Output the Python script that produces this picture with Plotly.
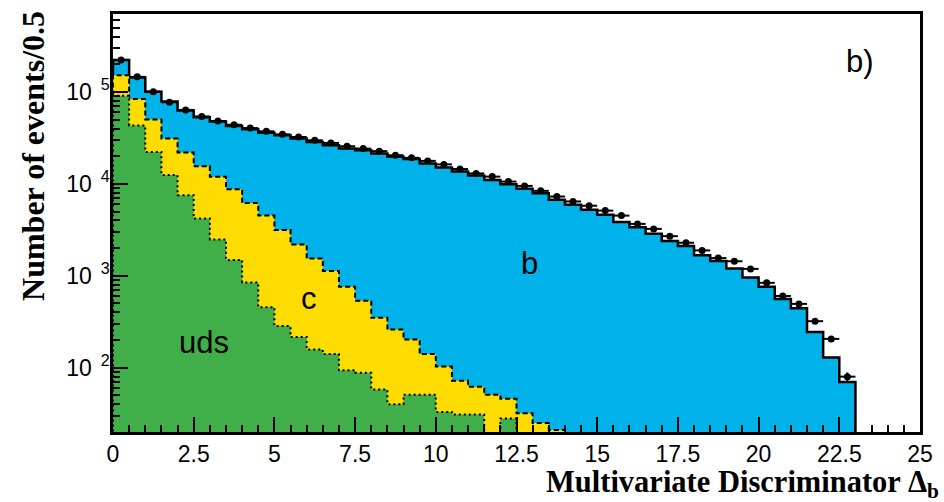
import numpy as np
import plotly.graph_objects as go

# ---------------- data (events per 0.5 bin) ----------------
bin_edges = [round(0.5 * i, 2) for i in range(51)]          # 0 ... 25
tick_vals_x = [0, 2.5, 5, 7.5, 10, 12.5, 15, 17.5, 20, 22.5, 25]
tick_text_x = ["0", "2.5", "5", "7.5", "10", "12.5", "15", "17.5", "20", "22.5", "25"]
tick_vals_y = [1e2, 1e3, 1e4, 1e5]
tick_text_y = ["10<sup>&nbsp;&nbsp;2</sup>", "10<sup>&nbsp;&nbsp;3</sup>",
               "10<sup>&nbsp;&nbsp;4</sup>", "10<sup>&nbsp;&nbsp;5</sup>"]

uds = [91200, 43300, 22300, 12500, 7530, 4190, 2490, 1490, 848, 455,
       284, 216, 158, 141, 94, 88, 58, 40, 51, 51,
       33, 31, 31, 15, 28, 0, 0, 0, 0, 0,
       0, 0, 0, 0, 0, 0, 0, 0, 0, 0,
       0, 0, 0, 0, 0, 0, 0, 0, 0, 0]

charm = [60800, 40500, 27900, 18600, 14400, 11400, 9500, 7260, 5330, 4070,
         2860, 1980, 1390, 990, 667, 449, 292, 220, 152, 90,
         70, 41, 31, 36, 18, 32, 25, 21, 0, 0,
         0, 0, 0, 0, 0, 0, 0, 0, 0, 0,
         0, 0, 0, 0, 0, 0, 0, 0, 0, 0]

bottom = [71000, 59900, 50500, 47500, 40900, 37600, 35800, 33850, 33020, 31580,
          30660, 28900, 27050, 25270, 23440, 22760, 21050, 19440, 18400, 16560,
          15000, 13530, 12240, 11000, 9854, 8808, 7895, 6699, 5930, 5240,
          4630, 3850, 3380, 2860, 2390, 2110, 1670, 1450, 1200, 959,
          761, 561, 444, 245, 129, 70, 0, 0, 0, 0]

data = [223000, 146000, 100700, 77300, 63800, 54200, 48200, 44000, 40500, 37300,
        34600, 32400, 29800, 27900, 25700, 24200, 22700, 20500, 19200, 17800,
        16300, 14500, 13000, 12000, 10600, 9510, 8400, 7290, 6440, 5790,
        5120, 4520, 3670, 3240, 2700, 2290, 1890, 1560, 1440, 1190,
        839, 604, 495, 321, 206, 80]

# ---------------- styling ----------------
COL_B = "#00B2EA"
COL_C = "#FFDC00"
COL_UDS = "#40AE49"
SANS = "Liberation Sans, Arial, sans-serif"
SERIF = "Liberation Serif, Times New Roman, serif"
W, H = 944, 502
ML, MR, MT, MB = 113, 14, 11, 70
YMIN, YMAX = 20, 7.05e5
FLOOR = 1.0

edges = np.array(bin_edges, float)
uds_top = np.array(uds, float)
c_top = uds_top + np.array(charm, float)
tot_top = c_top + np.array(bottom, float)


def step_xy(vals):
    v = np.maximum(vals, FLOOR)
    xs = np.repeat(edges, 2)[1:-1]
    ys = np.repeat(v, 2)
    xs = np.concatenate([[edges[0]], xs, [edges[-1]]])
    ys = np.concatenate([[FLOOR], ys, [FLOOR]])
    return xs, ys


fig = go.Figure()
for vals, col, dash, lw in [(tot_top, COL_B, "solid", 2.5),
                            (c_top, COL_C, "5px,3px", 2),
                            (uds_top, COL_UDS, "2px,3px", 2)]:
    xs, ys = step_xy(vals)
    fig.add_trace(go.Scatter(x=xs, y=ys, mode="lines", fill="toself", fillcolor=col,
                             line=dict(width=0), hoverinfo="skip"))
    fig.add_trace(go.Scatter(x=xs, y=ys, mode="lines",
                             line=dict(color="black", width=lw, dash=dash),
                             hoverinfo="skip"))

data_arr = np.array(data, float)
centers = (edges[:-1] + edges[1:])[:len(data)] / 2.0
fig.add_trace(go.Scatter(
    x=centers, y=data_arr, mode="markers",
    marker=dict(color="black", size=7, symbol="circle"),
    error_x=dict(type="constant", value=0.25, thickness=2, width=0, color="black"),
    error_y=dict(type="data", array=np.sqrt(data_arr), thickness=2, width=0, color="black"),
))

# labels inside the plot
lab_font = dict(family=SANS, size=31, color="black")
for txt, x, ly in [("b)", 23.15, 5.33), ("b", 12.9, 3.13), ("c", 6.08, 2.75), ("uds", 2.83, 2.28)]:
    fig.add_annotation(x=x, y=ly, xref="x", yref="y", text=txt, showarrow=False,
                       font=lab_font, xanchor="center", yanchor="middle")

pw, ph = W - ML - MR, H - MT - MB
# axis titles
fig.add_annotation(text="<b>Number of events/0.5</b>", textangle=-90, showarrow=False,
                   xref="paper", yref="paper",
                   x=(32 - ML) / pw, y=(H - MB - 154) / ph,
                   xanchor="center", yanchor="middle",
                   font=dict(family=SERIF, size=32, color="black"))
fig.add_annotation(text="<b>Multivariate Discriminator Δ<sub>b</sub></b>", showarrow=False,
                   xref="paper", yref="paper",
                   x=(951 - ML) / pw, y=(H - MB - 484) / ph,
                   xanchor="right", yanchor="middle",
                   font=dict(family=SERIF, size=30.5, color="black"))

fig.update_xaxes(range=[0, 25], tickmode="array", tickvals=tick_vals_x, ticktext=tick_text_x,
                 ticks="inside", ticklen=15, tickwidth=2, tickcolor="black",
                 showline=True, linewidth=2.5, linecolor="black", mirror=True,
                 showgrid=False, zeroline=False,
                 tickfont=dict(family=SANS, size=23, color="black"),
                 minor=dict(dtick=0.5, tick0=0, ticks="inside", ticklen=7, tickwidth=2,
                            tickcolor="black", showgrid=False))
minor_y = [m * 10 ** e for e in range(1, 6) for m in range(2, 10) if YMIN <= m * 10 ** e <= YMAX]
fig.update_yaxes(type="log", range=[np.log10(YMIN), np.log10(YMAX)],
                 tickmode="array", tickvals=tick_vals_y, ticktext=tick_text_y,
                 ticks="inside", ticklen=15, tickwidth=2, tickcolor="black",
                 showline=True, linewidth=2.5, linecolor="black", mirror=True,
                 showgrid=False, zeroline=False, ticklabelstandoff=-4,
                 tickfont=dict(family=SANS, size=23, color="black"),
                 minor=dict(tickmode="array", tickvals=minor_y, ticks="inside", ticklen=7,
                            tickwidth=2, tickcolor="black", showgrid=False))

fig.update_layout(width=W, height=H, autosize=False,
                  margin=dict(l=ML, r=MR, t=MT, b=MB, pad=0),
                  paper_bgcolor="white", plot_bgcolor="white", showlegend=False)

fig.write_html("out.html", config={"displayModeBar": False},
               post_script="document.body.style.margin='0';document.body.style.padding='0';"
                           "document.body.style.overflow='hidden';")
